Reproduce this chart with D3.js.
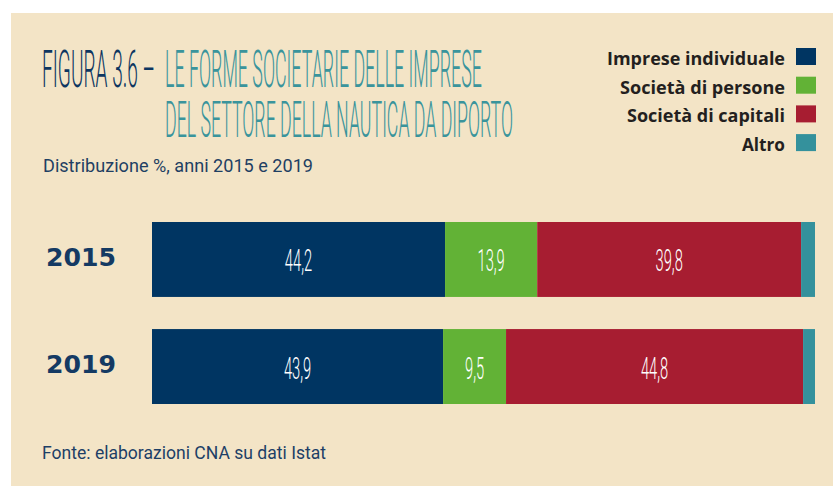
<!DOCTYPE html>
<html><head><meta charset="utf-8">
<script src="https://cdn.jsdelivr.net/npm/d3@7"></script>
<style>html,body{margin:0;padding:0;background:#fff;}svg{display:block;}</style>
</head><body>
<script>
const years = ["2015", "2019"];
const seriesNames = ["Imprese individuale", "Società di persone", "Società di capitali", "Altro"];
const imprese = [44.2, 43.9];
const persone = [13.9, 9.5];
const capitali = [39.8, 44.8];
const altro = [2.1, 1.8];
const colors = ["#003562", "#62b236", "#a71d31", "#34919c"];
const labelFmt = v => String(v).replace(".", ",");

const W = 833, H = 486;
const svg = d3.select("body").append("svg").attr("width", W).attr("height", H);
svg.append("rect").attr("x", 11).attr("y", 13).attr("width", W - 11).attr("height", H - 13).attr("fill", "#f3e4c6");

// Title
const tf = "Roboto, 'Liberation Sans Narrow', sans-serif";
svg.append("text").attr("x", 42).attr("y", 87).attr("font-family", tf).attr("font-weight", 300)
  .attr("font-size", 52).attr("fill", "#0d3661").attr("textLength", 113).attr("lengthAdjust", "spacingAndGlyphs")
  .text("FIGURA 3.6 –");
svg.append("text").attr("x", 165).attr("y", 87).attr("font-family", tf).attr("font-weight", 300)
  .attr("font-size", 52).attr("fill", "#3a949c").attr("textLength", 317).attr("lengthAdjust", "spacingAndGlyphs")
  .text("LE FORME SOCIETARIE DELLE IMPRESE");
svg.append("text").attr("x", 165).attr("y", 137).attr("font-family", tf).attr("font-weight", 300)
  .attr("font-size", 50).attr("fill", "#3a949c").attr("textLength", 348).attr("lengthAdjust", "spacingAndGlyphs")
  .text("DEL SETTORE DELLA NAUTICA DA DIPORTO");
svg.append("text").attr("x", 43).attr("y", 172).attr("font-family", tf).attr("font-weight", 400)
  .attr("font-size", 19).attr("fill", "#1f3f63").attr("textLength", 270).attr("lengthAdjust", "spacingAndGlyphs")
  .text("Distribuzione %, anni 2015 e 2019");

// Legend
const legendWidths = [178, 165, 158, 43];
const lg = svg.append("g");
seriesNames.forEach((n, i) => {
  const y = 48 + i * 28.7;
  lg.append("rect").attr("x", 796).attr("y", y).attr("width", 20).attr("height", 17).attr("fill", colors[i]);
  lg.append("text").attr("x", 785 - legendWidths[i]).attr("y", y + 17)
    .attr("font-family", "'Open Sans', 'DejaVu Sans', sans-serif").attr("font-weight", 700).attr("font-size", 17.5)
    .attr("textLength", legendWidths[i]).attr("lengthAdjust", "spacingAndGlyphs")
    .attr("fill", "#231f20").text(n);
});

// Chart
const x = d3.scaleLinear().domain([0, 100]).range([152, 815]);
const y = d3.scaleBand().domain(years).range([222, 404]).paddingInner(0.3).paddingOuter(0);
const rows = years.map((yr, i) => ({year: yr, vals: [imprese[i], persone[i], capitali[i], altro[i]]}));
const stackData = rows.map(r => { const o = {year: r.year}; seriesNames.forEach((n, k) => o[n] = r.vals[k]); return o; });
const stacked = d3.stack().keys(seriesNames)(stackData);

const g = svg.append("g");
stacked.forEach((layer, k) => {
  g.selectAll(null).data(layer).enter().append("rect")
    .attr("x", d => x(d[0])).attr("width", d => x(d[1]) - x(d[0]))
    .attr("y", d => y(d.data.year)).attr("height", y.bandwidth())
    .attr("fill", colors[k]);
  if (k < 3) {
    g.selectAll(null).data(layer).enter().append("text")
      .attr("transform", d => `translate(${(x(d[0]) + x(d[1])) / 2},${y(d.data.year) + y.bandwidth() / 2 + 12}) scale(0.46,1)`)
      .attr("text-anchor", "middle").attr("font-family", tf).attr("font-weight", 300)
      .attr("font-size", 32).attr("fill", "#ffffff")
      .text(d => labelFmt(+(d[1] - d[0]).toFixed(1)));
  }
});

// Year labels
svg.selectAll(null).data(years).enter().append("text")
  .attr("x", 46).attr("y", d => y(d) + y.bandwidth() / 2 + 6.5)
  .attr("font-family", "'DejaVu Sans', sans-serif").attr("font-weight", 700).attr("font-size", 25)
  .attr("textLength", 70).attr("lengthAdjust", "spacingAndGlyphs")
  .attr("fill", "#143a63").text(d => d);

// Source
svg.append("text").attr("x", 42).attr("y", 459).attr("font-family", tf).attr("font-weight", 400)
  .attr("font-size", 18).attr("fill", "#1d3f66").attr("textLength", 284).attr("lengthAdjust", "spacingAndGlyphs")
  .text("Fonte: elaborazioni CNA su dati Istat");
</script>
</body></html>
